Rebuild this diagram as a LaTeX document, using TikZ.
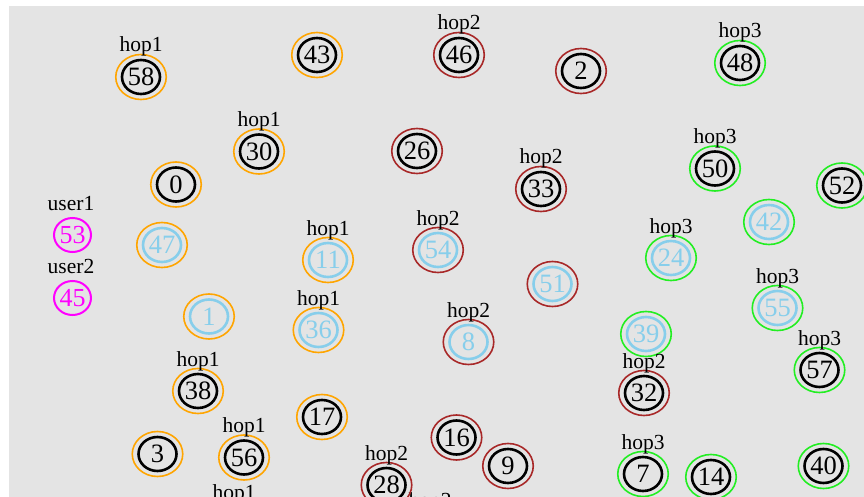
\documentclass[tikz,border=0pt]{standalone}
\usepackage{fontspec}
\setmainfont{Liberation Serif}
\usetikzlibrary{shapes.geometric}
\definecolor{bgray}{HTML}{E4E4E4}
\definecolor{O}{HTML}{FFA500}
\definecolor{B}{HTML}{A82828}
\definecolor{G}{HTML}{22EE22}
\definecolor{S}{HTML}{87CEEB}
\definecolor{K}{HTML}{000000}
\definecolor{M}{HTML}{FF00FF}
\tikzset{
  ring/.style={ellipse, draw, line width=1.6pt, minimum width=50.5pt, minimum height=45pt, inner sep=0pt},
  core/.style={ellipse, draw, line width=2.6pt, minimum width=38pt, minimum height=34pt, inner sep=0pt, font=\fontsize{26.5}{26.5}\selectfont},
  usr/.style={ellipse, draw=M, text=M, line width=2pt, minimum width=37pt, minimum height=34pt, inner sep=0pt, font=\fontsize{26}{26}\selectfont},
  lab/.style={anchor=base, inner sep=0pt, font=\fontsize{21.5}{21.5}\selectfont}
}
\newcommand{\nd}[5]{%
  \node[ring, draw=#4] (r#1) at (#2,#3) {};
  \node[core, draw=#5, text=#5] (n#1) at (#2,#3) {#1};}
\newcommand{\lb}[4]{\node[lab] (#1) at (#2,#3) {#4};}
\begin{document}
\begin{tikzpicture}[x=1pt, y=-1pt]
\useasboundingbox (0,0) rectangle (864,497);
\clip (0,0) rectangle (864,497);
\fill[bgray] (9,6) rectangle (864,497);
% labels cut off at the bottom edge, as in the reference
\lb{lbA}{234}{499}{hop1}
\lb{lbB}{430}{507}{hop2}
% nodes
\nd{58}{141}{77}{O}{K}     \lb{l58}{141}{52}{hop1}
\nd{43}{317}{55}{O}{K}
\nd{46}{459}{55}{B}{K}     \lb{l46}{459}{30}{hop2}
\nd{2}{581}{71}{B}{K}
\nd{48}{740}{63}{G}{K}     \lb{l48}{740}{38}{hop3}
\nd{30}{259}{151.5}{O}{K}  \lb{l30}{259}{126.5}{hop1}
\nd{26}{417}{151}{B}{K}
\nd{33}{541}{189}{B}{K}    \lb{l33}{541}{164}{hop2}
\nd{50}{715}{168.5}{G}{K}  \lb{l50}{715}{143.5}{hop3}
\nd{52}{842}{185.5}{G}{K}
\nd{0}{176}{184.5}{O}{K}
\nd{47}{162}{245}{O}{S}
\nd{11}{328}{260}{O}{S}    \lb{l11}{328}{235}{hop1}
\nd{54}{438}{250}{B}{S}    \lb{l54}{438}{225}{hop2}
\nd{51}{552.5}{284}{B}{S}
\nd{24}{671}{258}{G}{S}    \lb{l24}{671}{233}{hop3}
\nd{42}{769}{222}{G}{S}
\nd{55}{777.5}{308}{G}{S}  \lb{l55}{777.5}{283}{hop3}
\nd{1}{209}{316.5}{O}{S}
\nd{36}{318.5}{330}{O}{S}  \lb{l36}{318.5}{305}{hop1}
\nd{8}{468.5}{342}{B}{S}   \lb{l8}{468.5}{317}{hop2}
\nd{39}{646}{334}{G}{S}
\nd{32}{644}{393}{B}{K}    \lb{l32}{644}{368}{hop2}
\nd{57}{819.5}{370}{G}{K}  \lb{l57}{819.5}{345}{hop3}
\nd{38}{198}{391}{O}{K}    \lb{l38}{198}{366}{hop1}
\nd{17}{322}{417}{O}{K}
\nd{16}{456.5}{437.5}{B}{K}
\nd{9}{508}{466}{B}{K}
\nd{3}{157.5}{454}{O}{K}
\nd{56}{244}{457.5}{O}{K}  \lb{l56}{244}{432.5}{hop1}
\nd{28}{386.5}{485}{B}{K}  \lb{l28}{386.5}{460}{hop2}
\nd{7}{643}{474}{G}{K}     \lb{l7}{643}{449}{hop3}
\nd{14}{711}{477}{G}{K}
\nd{40}{823.5}{466}{G}{K}
% users
\node[usr] (n53) at (72.5,235) {53}; \lb{l53}{71}{210}{user1}
\node[usr] (n45) at (72.5,298) {45}; \lb{l45}{71}{273}{user2}
\end{tikzpicture}
\end{document}
